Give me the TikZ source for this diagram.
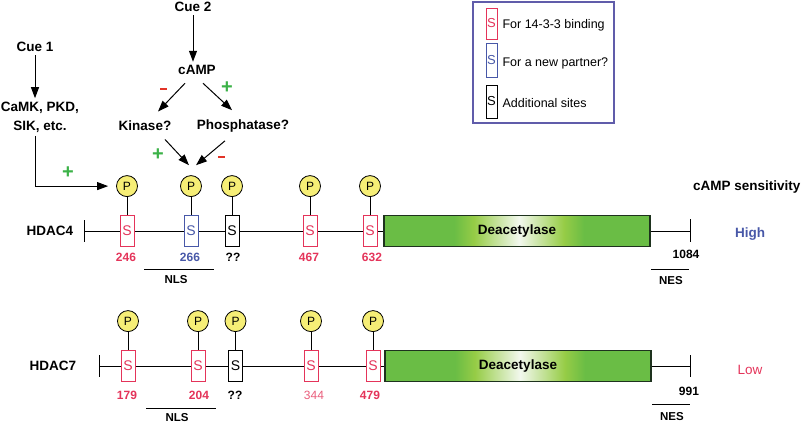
\documentclass[tikz,border=0pt]{standalone}
\usepackage{fontspec}
\setmainfont{Liberation Sans}
\usetikzlibrary{arrows.meta, positioning}

\definecolor{hred}{RGB}{228,52,90}
\definecolor{hblue}{RGB}{72,88,168}
\definecolor{pgreen}{RGB}{60,178,72}
\definecolor{mred}{RGB}{226,52,40}
\definecolor{dgreen}{RGB}{106,189,69}
\definecolor{ygreen}{RGB}{150,204,70}
\definecolor{dwhite}{RGB}{242,248,238}
\definecolor{dborder}{RGB}{30,50,30}
\definecolor{pyellow}{RGB}{246,238,118}
\definecolor{lgframe}{RGB}{96,92,170}

\pgfdeclarehorizontalshading{deac}{100bp}{color(0bp)=(dgreen); color(38.2bp)=(dgreen);
    color(41.9bp)=(ygreen); color(50.4bp)=(dwhite); color(58.8bp)=(ygreen);
    color(62.6bp)=(dgreen); color(100bp)=(dgreen)}

\begin{document}
\begin{tikzpicture}[x=1pt,y=-1pt,
    lbl/.style={font=\fontsize{13.5}{19}\selectfont\bfseries, align=center},
    num/.style={font=\fontsize{12}{14}\selectfont\bfseries},
    site/.style={draw=#1, text=#1, line width=1pt, fill=white, minimum width=14pt,
        minimum height=31pt, inner sep=0pt, font=\fontsize{14}{16}\selectfont},
    lgsite/.style={site=#1, minimum width=11pt, font=\fontsize{13}{15}\selectfont},
    phos/.style={draw=black, circle, fill=pyellow, minimum size=21pt, inner sep=0pt,
        line width=0.8pt, font=\fontsize{12}{14}\selectfont},
    dbox/.style={shading=deac, outer sep=0pt,
        minimum width=266pt, minimum height=31pt, lbl},
    arr/.style={-{Triangle[length=11pt,width=8pt]}, line width=1pt},
    plus/.style={text=pgreen, font=\fontsize{20}{20}\selectfont\bfseries},
    minus/.style={fill=mred, minimum width=7pt, minimum height=2.6pt, inner sep=0pt},
    bar/.style={line width=1pt}
]
\useasboundingbox (0,0) rectangle (805,423);

% signals
\node[lbl] (cue1) at (35,47) {Cue 1};
\node[lbl] (camk) at (40,117) {CaMK, PKD,\\SIK, etc.};
\node[lbl] (cue2) at (193,7) {Cue 2};
\node[lbl] (camp) at (197,70) {cAMP};
\node[lbl] (kin) at (145,126) {Kinase?};
\node[lbl] (pho) at (243,126) {Phosphatase?};

% legend
\draw[lgframe, line width=1.2pt] (473,2) rectangle (614,123);
\node[lgsite=hred] (lg1) at (491.5,23.5) {S};
\node[lgsite=hblue, minimum height=34pt] (lg2) at (491.5,60) {S};
\node[lgsite=black, minimum height=33pt] (lg3) at (491.5,101.5) {S};
\node[anchor=west, font=\fontsize{12.5}{15}\selectfont] at (499,25) {For 14-3-3 binding};
\node[anchor=west, font=\fontsize{12.5}{15}\selectfont] at (499,63) {For a new partner?};
\node[anchor=west, font=\fontsize{12.5}{15}\selectfont] at (499,103) {Additional sites};

\node[lbl, anchor=east] (sens) at (804,187) {cAMP sensitivity};

% HDAC4
\node[lbl] (h4) at (50,231) {HDAC4};
\coordinate (h4l) at (84,231);
\coordinate (h4r) at (690,231);
\draw[bar] (h4l) -- (h4r);
\draw[bar] (84,220) -- (84,242);
\draw[bar] (690,219) -- (690,242);
\node[site=hred] (a1) at (127,231) {S};
\node[site=hblue] (a2) at (191,231) {S};
\node[site=black] (a3) at (232,231) {S};
\node[site=hred] (a4) at (310,231) {S};
\node[site=hred] (a5) at (370,231) {S};
\foreach \i in {1,...,5} {
    \node[phos, above=18pt of a\i] (pa\i) {P};
    \draw[bar] (pa\i) -- (a\i);
}
\node[dbox] (d4) at (517,231) {Deacetylase};
\draw[dborder, line width=1.3pt] (d4.north west) rectangle (d4.south east);
\node[num, text=hred] at (126,257) {246};
\node[num, text=hblue] at (190,257) {266};
\node[num] at (233,257) {??};
\node[num, text=hred] at (309,257) {467};
\node[num, text=hred] at (372,257) {632};
\node[num] at (686,254) {1084};
\draw[bar] (144,269) -- (214,269);
\node[num, font=\fontsize{11.5}{14}\selectfont\bfseries] at (176,280) {NLS};
\draw[bar] (651,269) -- (689,269);
\node[num, font=\fontsize{11.5}{14}\selectfont\bfseries] at (671,281) {NES};
\node[lbl, text=hblue] at (750,234) {High};

% HDAC7
\node[lbl] (h7) at (53,366) {HDAC7};
\coordinate (h7l) at (99,366);
\coordinate (h7r) at (690,366);
\draw[bar] (h7l) -- (h7r);
\draw[bar] (99,355) -- (99,377);
\draw[bar] (690,355) -- (690,377);
\node[site=hred] (b1) at (128,366) {S};
\node[site=hred] (b2) at (198,366) {S};
\node[site=black] (b3) at (235.5,366) {S};
\node[site=hred] (b4) at (311,366) {S};
\node[site=hred] (b5) at (373,366) {S};
\foreach \i in {1,...,5} {
    \node[phos, above=18pt of b\i] (pb\i) {P};
    \draw[bar] (pb\i) -- (b\i);
}
\node[dbox] (d7) at (518,366) {Deacetylase};
\draw[dborder, line width=1.3pt] (d7.north west) rectangle (d7.south east);
\node[num, text=hred] at (127,395) {179};
\node[num, text=hred] at (199,395) {204};
\node[num] at (235,395) {??};
\node[num, text=hred!80, font=\fontsize{12}{14}\selectfont] at (314,395) {344};
\node[num, text=hred] at (370,395) {479};
\node[num] at (689,391) {991};
\draw[bar] (146,408) -- (216,408);
\node[num, font=\fontsize{11.5}{14}\selectfont\bfseries] at (177,418) {NLS};
\draw[bar] (652,404) -- (690,404);
\node[num, font=\fontsize{11.5}{14}\selectfont\bfseries] at (672,417) {NES};
\node[lbl, text=hred, font=\fontsize{13.5}{15}\selectfont] at (750,370) {Low};

% arrows
\draw[arr] (cue1.south) -- (cue1.south |- camk.north);
\draw[arr] (camk.south -| cue1) |- (pa1) [shorten >=8pt];
\draw[arr] (cue2.south) -- (cue2.south |- camp.north);
\draw[arr] ([xshift=-12pt,yshift=-5pt]camp.south) -- ([xshift=13pt,yshift=6pt]kin.north);
\draw[arr] ([xshift=6pt,yshift=-5pt]camp.south) -- ([xshift=-11pt,yshift=6pt]pho.north);
\draw[arr] ([xshift=20pt,yshift=-5pt]kin.south) -- ([xshift=-2pt,yshift=10pt]pa2.north);
\draw[arr] ([xshift=-18pt,yshift=-5pt]pho.south) -- ([xshift=5pt,yshift=10pt]pa2.north);

% signs
\node[minus] at (163,89) {};
\node[plus] at (227,88) {+};
\node[plus] at (158,155) {+};
\node[minus] at (221,157) {};
\node[plus] at (68,173) {+};
\end{tikzpicture}
\end{document}
